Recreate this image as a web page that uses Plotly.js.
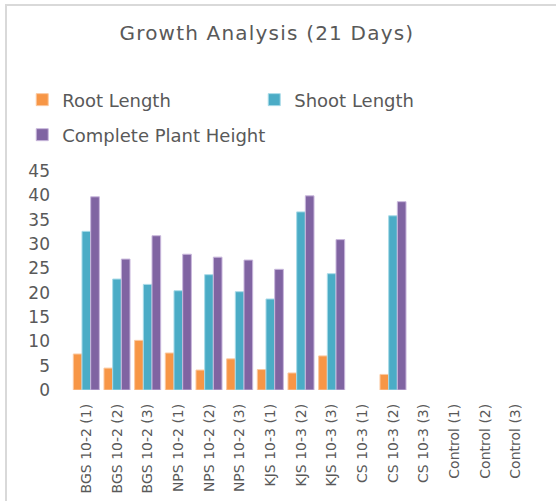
<!DOCTYPE html>
<html>
<head>
<meta charset="utf-8">
<script src="https://cdn.plot.ly/plotly-3.0.1.min.js"></script>
<style>
  body { margin: 0; background: #fff; }
  #graph { width: 556px; height: 501px; }
  #frame { position: absolute; left: 5px; top: 4px; width: 560px; height: 510px;
           border-left: 2px solid #d9d9d9; border-top: 2px solid #d9d9d9; pointer-events: none; }
  .gtitle { letter-spacing: 1.2px; }
</style>
</head>
<body>
<div id="graph"></div>
<div id="frame"></div>
<script>
// samples on the x axis
var samples = ['BGS 10-2 (1)', 'BGS 10-2 (2)', 'BGS 10-2 (3)',
               'NPS 10-2 (1)', 'NPS 10-2 (2)', 'NPS 10-2 (3)',
               'KJS 10-3 (1)', 'KJS 10-3 (2)', 'KJS 10-3 (3)',
               'CS 10-3 (1)', 'CS 10-3 (2)', 'CS 10-3 (3)',
               'Control (1)', 'Control (2)', 'Control (3)'];

// lengths in cm (null = no bar drawn)
var rootLength  = [7.4, 4.5, 10.2, 7.6, 4.1, 6.4, 4.2, 3.5, 7.0, null, 3.2, null, null, null, null];
var shootLength = [32.6, 22.8, 21.7, 20.4, 23.7, 20.2, 18.7, 36.6, 23.9, null, 35.8, null, null, null, null];
var plantHeight = [39.7, 26.9, 31.7, 27.9, 27.3, 26.7, 24.8, 39.9, 30.9, null, 38.7, null, null, null, null];

var yTicks = [0, 5, 10, 15, 20, 25, 30, 35, 40, 45];

var FONT = 'DejaVu Sans, sans-serif';
var GREY = '#595959';

function barTrace(name, vals, fill, edge, legendRef) {
  return {
    type: 'bar',
    name: name,
    x: samples,
    y: vals,
    legend: legendRef,
    marker: { color: fill, line: { color: edge, width: 1 } },
    hoverinfo: 'x+y+name'
  };
}

var traces = [
  barTrace('Root Length', rootLength, '#F79646', '#fbc9a0', 'legend'),
  barTrace('Shoot Length', shootLength, '#4BACC6', '#a9dbe8', 'legend'),
  barTrace('Complete Plant Height', plantHeight, '#8064A2', '#c9b8dc', 'legend2')
];

var legendFont = { family: FONT, size: 18, color: GREY };

var layout = {
  width: 556,
  height: 501,
  margin: { l: 71, r: 25, t: 171, b: 111 },
  paper_bgcolor: '#ffffff',
  plot_bgcolor: '#ffffff',
  font: { family: FONT, color: GREY },
  title: {
    text: 'Growth Analysis (21 Days)',
    font: { family: FONT, size: 20, color: GREY },
    x: 0.48, xanchor: 'center',
    y: 1 - 33 / 501, yanchor: 'middle', yref: 'container'
  },
  barmode: 'group',
  bargap: 0.15,
  bargroupgap: 0,
  showlegend: true,
  legend: {
    orientation: 'h',
    x: -0.106, xanchor: 'left',
    y: 1.409, yanchor: 'top',
    entrywidth: 187, entrywidthmode: 'pixels',
    bgcolor: 'rgba(0,0,0,0)',
    font: legendFont,
    traceorder: 'normal'
  },
  legend2: {
    orientation: 'h',
    x: -0.106, xanchor: 'left',
    y: 1.249, yanchor: 'top',
    bgcolor: 'rgba(0,0,0,0)',
    font: legendFont
  },
  xaxis: {
    type: 'category',
    tickangle: -90,
    tickfont: { family: FONT, size: 14, color: GREY },
    showline: false,
    showgrid: false,
    ticks: '',
    ticklabelstandoff: 10
  },
  yaxis: {
    range: [0, 45],
    tickvals: yTicks,
    ticktext: yTicks.map(String),
    tickfont: { family: FONT, size: 17, color: GREY },
    showgrid: false,
    showline: false,
    zeroline: false,
    ticks: '',
    ticklabelstandoff: 20
  }
};

Plotly.newPlot('graph', traces, layout, { displayModeBar: false, staticPlot: true });
</script>
</body>
</html>
